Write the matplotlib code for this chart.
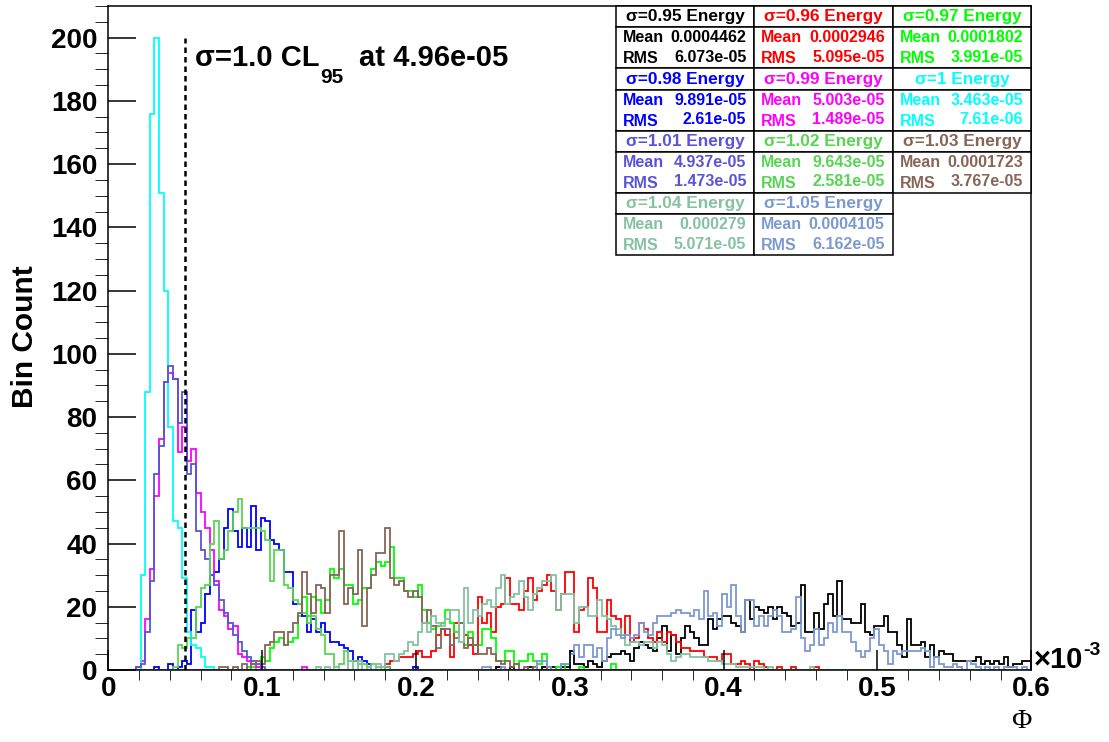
import numpy as np
import matplotlib.pyplot as plt
from matplotlib.patches import Rectangle
from matplotlib.ticker import MultipleLocator

plt.rcParams['font.family'] = ['Liberation Sans', 'DejaVu Sans']

W, H = 1109, 742
BIN_WIDTH = 3e-6
N_BINS = 200

# bin contents per sigma, starting at bin index first_xxx
first_095 = 84
counts_095 = [1, 0, 0, 1, 0, 0, 0, 1, 0, 0, 1, 0, 1, 0, 1, 1,
              6, 2, 2, 1, 3, 2, 1, 3, 4, 5, 5, 6, 5, 3, 7, 9, 8, 7, 6, 10,
              14, 6, 11, 5, 10, 14, 12, 10, 8, 8, 16, 13, 16, 17, 17, 15, 14, 12, 22, 16,
              20, 19, 18, 20, 16, 20, 18, 17, 14, 15, 27, 12, 12, 18, 13, 21, 24, 17, 28, 16,
              16, 15, 15, 21, 12, 11, 14, 14, 17, 12, 12, 8, 4, 16, 8, 8, 9, 4, 8, 4,
              6, 5, 5, 3, 3, 3, 3, 3, 4, 2, 3, 2, 3, 2, 4, 1, 2, 2, 3, 3]

first_096 = 60
counts_096 = [2, 3, 3, 4, 4, 4, 5, 6, 4, 4,
              6, 11, 13, 11, 4, 15, 15, 11, 8, 5,
              23, 15, 18, 12, 20, 21, 29, 21, 21, 19,
              25, 29, 22, 25, 27, 30, 25, 19, 24, 31,
              31, 12, 19, 20, 29, 26, 12, 12, 22, 17,
              16, 11, 17, 9, 10, 15, 13, 10, 9, 12,
              9, 12, 11, 9, 7, 7, 6, 6, 6, 4,
              4, 4, 3, 5, 5, 2, 2, 3, 2, 0,
              3, 2, 1, 0, 0, 1, 0, 0, 1, 0, 0, 0, 0, 1]

first_097 = 30
counts_097 = [1, 1, 0, 4, 3, 7, 9, 10, 8, 9,
              10, 17, 23, 17, 23, 22, 18, 22, 32, 29,
              32, 27, 27, 21, 22, 26, 26, 32, 34, 33,
              34, 39, 29, 29, 25, 25, 23, 27, 19, 15,
              13, 14, 15, 19, 15, 12, 15, 8, 12, 8,
              8, 13, 13, 10, 3, 3, 6, 6, 2, 3,
              3, 5, 3, 2, 5, 1, 0, 1, 2, 0,
              0, 0, 1, 0, 0, 0, 0, 0, 0, 2]

first_098 = 10
counts_098 = [1, 0, 0, 2, 0, 1, 3, 2, 19, 12,
              15, 24, 30, 31, 35, 45, 51, 44, 39, 45,
              39, 52, 38, 48, 47, 41, 40, 38, 31, 31,
              21, 21, 17, 12, 16, 12, 15, 12, 9, 9,
              8, 7, 6, 3, 4, 3, 2, 0, 0, 0,
              1, 0, 0, 0, 0, 0, 1]

first_099 = 6
counts_099 = [1, 3, 16, 32, 55, 73, 91, 94, 92, 69,
              77, 66, 70, 56, 50, 45, 38, 28, 19, 17,
              13, 14, 5, 4, 3, 2, 1, 0, 0, 0,
              0, 0, 0, 0, 0, 0, 1]

first_100 = 7
counts_100 = [30, 88, 176, 200, 151, 120, 77, 47, 45, 29, 12, 8, 7, 4, 1, 1]

first_101 = 6
counts_101 = [1, 2, 12, 28, 62, 71, 91, 96, 92, 78,
              88, 62, 65, 44, 38, 35, 30, 27, 22, 18,
              15, 11, 9, 6, 4, 3, 2, 1]

first_102 = 14
counts_102 = [1, 8, 7, 10, 10, 20, 26, 27, 40, 47,
              35, 38, 44, 50, 54, 45, 45, 45, 45, 44,
              41, 28, 38, 38, 27, 26, 22, 21, 18, 15,
              17, 13, 11, 5, 5, 1, 2, 6, 3, 3,
              2, 2, 1, 2, 1, 0, 1]

first_103 = 24
counts_103 = [1, 1, 0, 1, 0, 2, 0, 2, 3, 2,
              8, 9, 12, 12, 8, 12, 15, 18, 31, 24,
              18, 27, 26, 18, 30, 30, 44, 21, 26, 24,
              38, 14, 26, 30, 37, 37, 45, 29, 27, 28,
              25, 23, 25, 23, 15, 19, 14, 7, 13, 13,
              8, 10, 15, 7, 10, 8, 5, 5, 7, 5,
              3, 2, 3, 1, 2, 0, 1, 0, 1, 0, 0, 1]

first_104 = 45
counts_104 = [1, 0, 1, 0, 1, 0, 0, 3, 0, 3, 0, 1, 0, 2, 1,
              5, 5, 3, 5, 6, 9, 8, 12, 15, 12,
              17, 15, 14, 16, 19, 19, 9, 26, 15, 19,
              17, 21, 22, 20, 26, 30, 21, 23, 24, 28,
              23, 19, 24, 26, 28, 28, 30, 19, 24, 24,
              24, 15, 20, 20, 17, 17, 22, 17, 16, 14,
              13, 11, 8, 9, 9, 8, 9, 9, 7, 9,
              8, 5, 3, 4, 5, 5, 4, 4, 4, 4,
              3, 3, 3, 2, 2, 2, 1, 1, 1, 1,
              1, 1, 0, 1, 0, 0, 0, 0, 0, 0, 0, 0, 1]

first_105 = 81
counts_105 = [1, 1, 0, 0, 1, 0, 0, 0, 0, 0, 0, 0, 3, 3, 1, 0, 0, 2, 2,
              5, 8, 4, 8, 8, 4, 7, 3, 10, 13,
              11, 10, 11, 10, 11, 15, 12, 11, 15, 17,
              17, 17, 18, 19, 18, 18, 17, 19, 16, 25,
              17, 18, 14, 24, 20, 27, 17, 12, 22, 22,
              14, 17, 14, 17, 19, 17, 12, 12, 13, 23,
              10, 6, 8, 13, 8, 10, 15, 12, 17, 12,
              12, 9, 6, 4, 6, 10, 13, 8, 6, 2,
              6, 5, 6, 6, 6, 6, 7, 6, 1, 4,
              2, 1, 1, 2, 1, 0, 3, 2, 1, 0,
              1, 0, 1, 0, 1, 1, 1, 0, 1]

sigma_labels = ['0.95', '0.96', '0.97', '0.98', '0.99', '1',
                '1.01', '1.02', '1.03', '1.04', '1.05']
mean_labels = ['0.0004462', '0.0002946', '0.0001802', '9.891e-05', '5.003e-05',
               '3.463e-05', '4.937e-05', '9.643e-05', '0.0001723', '0.000279',
               '0.0004105']
rms_labels = ['6.073e-05', '5.095e-05', '3.991e-05', '2.61e-05', '1.489e-05',
              '7.61e-06', '1.473e-05', '2.581e-05', '3.767e-05', '5.071e-05',
              '6.162e-05']
colors = ['#000000', '#ff0000', '#00ff00', '#0000ff', '#ff00ff', '#00ffff',
          '#5954d9', '#59d454', '#876657', '#85c2a3', '#7d99d1']

firsts = [first_095, first_096, first_097, first_098, first_099, first_100,
          first_101, first_102, first_103, first_104, first_105]
series = [counts_095, counts_096, counts_097, counts_098, counts_099, counts_100,
          counts_101, counts_102, counts_103, counts_104, counts_105]

cl95_value = 4.96e-05
x_ticks = [0, 1e-4, 2e-4, 3e-4, 4e-4, 5e-4, 6e-4]
y_ticks = list(range(0, 201, 20))


def fig_xy(px, py):
    return px / W, 1 - py / H


fig = plt.figure(figsize=(W / 100, H / 100), dpi=100)
L, R, T, B = 108.3, 1031.3, 6, 670
ax = fig.add_axes([L / W, 1 - B / H, (R - L) / W, (B - T) / H])

edges = np.arange(N_BINS + 1) * BIN_WIDTH
for first, counts, col in zip(firsts, series, colors):
    full = np.zeros(N_BINS)
    n = min(len(counts), N_BINS - first)
    full[first:first + n] = counts[:n]
    ax.stairs(full, edges, color=col, lw=1.3, baseline=0)

ax.plot([cl95_value, cl95_value], [0, max(counts_100)], color='black',
        lw=1.8, linestyle=(0, (2.2, 1.6)), zorder=5)

ax.set_xlim(0, 6e-4)
ax.set_ylim(0, 210)
ax.set_xticks(x_ticks, [f'{t * 1e3:g}' for t in x_ticks])
ax.set_yticks(y_ticks, [str(t) for t in y_ticks])
ax.xaxis.set_minor_locator(MultipleLocator(2e-5))
ax.yaxis.set_minor_locator(MultipleLocator(5))
ax.tick_params(direction='in', width=1.1, labelsize=20)
ax.tick_params(axis='y', which='major', length=20, pad=8)
ax.tick_params(axis='y', which='minor', length=9.4)
ax.tick_params(axis='x', which='major', length=14.4, pad=4)
ax.tick_params(axis='x', which='minor', length=7.2)
for lab in ax.get_xticklabels() + ax.get_yticklabels():
    lab.set_fontweight('bold')
for sp in ax.spines.values():
    sp.set_linewidth(1.1)

fig.text(*fig_xy(25, 337), 'Bin Count', rotation=90, ha='center', va='center',
         fontsize=21.5, fontweight='bold')
fig.text(*fig_xy(1021, 722), 'Φ', ha='center', va='center', fontsize=20,
         family=['Liberation Serif', 'DejaVu Serif'])

renderer = fig.canvas.get_renderer()


def right_edge(t):
    bb = t.get_window_extent(renderer)
    return bb.x1 / W


# exponent of the x axis
t = fig.text(*fig_xy(1034, 668), '×10', ha='left', va='baseline',
             fontsize=21, fontweight='bold')
fig.text(right_edge(t), 1 - 655 / H, '-3', ha='left', va='baseline',
         fontsize=14, fontweight='bold')

# CL95 annotation
t = fig.text(*fig_xy(195, 66), 'σ=1.0 CL', ha='left', va='baseline',
             fontsize=21, fontweight='bold')
t2 = fig.text(right_edge(t) + 1 / W, 1 - 83 / H, '95', ha='left', va='baseline',
              fontsize=15, fontweight='bold')
fig.text(right_edge(t2) + 15 / W, 1 - 66 / H, 'at 4.96e-05', ha='left',
         va='baseline', fontsize=21, fontweight='bold')

# stats boxes
col_x = [616, 754.3, 892.7, 1031.3]
row_h = 62.3
title_h = 21.3
for i, (lab, mn, rm, col) in enumerate(zip(sigma_labels, mean_labels, rms_labels, colors)):
    r, c = divmod(i, 3)
    x0, x1 = col_x[c], col_x[c + 1]
    y0 = T + r * row_h
    for top, h in [(y0, title_h), (y0 + title_h, row_h - title_h)]:
        fx, fy = fig_xy(x0, top + h)
        fig.patches.append(Rectangle((fx, fy), (x1 - x0) / W, h / H,
                                     transform=fig.transFigure, facecolor='white',
                                     edgecolor='black', lw=1.1, zorder=10))
    fig.text(*fig_xy((x0 + x1) / 2, y0 + 11), f'σ={lab} Energy', ha='center',
             va='center', fontsize=12.4, fontweight='bold', color=col, zorder=11)
    fig.text(*fig_xy(x0 + 7, y0 + title_h + 10.5), 'Mean', ha='left', va='center',
             fontsize=11.5, fontweight='bold', color=col, zorder=11)
    fig.text(*fig_xy(x1 - 8, y0 + title_h + 10.5), mn, ha='right', va='center',
             fontsize=11.5, fontweight='bold', color=col, zorder=11)
    fig.text(*fig_xy(x0 + 7, y0 + title_h + 31.5), 'RMS', ha='left', va='center',
             fontsize=11.5, fontweight='bold', color=col, zorder=11)
    fig.text(*fig_xy(x1 - 8, y0 + title_h + 30), rm, ha='right', va='center',
             fontsize=11.5, fontweight='bold', color=col, zorder=11)

fig.savefig('out.png', dpi=100)
